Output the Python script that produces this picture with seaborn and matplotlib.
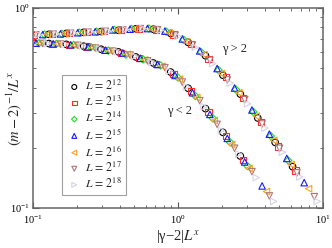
import matplotlib
matplotlib.use("Agg")
import matplotlib.pyplot as plt
import seaborn as sns
import numpy as np
import pandas as pd
from matplotlib.ticker import NullFormatter

# system sizes L = 2^e
exponents = [12, 13, 14, 15, 16, 17, 18]

# gamma < 2 branch (lower curve): scaled variable |gamma-2| L^x and (m-2)^-1 / L^x
lo_u_12 = [2.692, 2.042, 1.549, 1.175, 0.891, 0.676, 0.513, 0.389, 0.295, 0.224, 0.170, 0.129]
lo_y_12 = [0.182, 0.239, 0.314, 0.397, 0.478, 0.531, 0.569, 0.603, 0.622, 0.644, 0.658, 0.664]
lo_u_13 = [2.818, 2.138, 1.622, 1.230, 0.933, 0.708, 0.537, 0.407, 0.309, 0.234, 0.178, 0.135, 0.102]
lo_y_13 = [0.174, 0.229, 0.301, 0.384, 0.466, 0.525, 0.563, 0.598, 0.617, 0.641, 0.655, 0.663, 0.668]
lo_u_14 = [3.020, 2.291, 1.738, 1.318, 1.000, 0.759, 0.575, 0.437, 0.331, 0.251, 0.191, 0.145, 0.110]
lo_y_14 = [0.162, 0.213, 0.281, 0.363, 0.449, 0.516, 0.553, 0.584, 0.612, 0.637, 0.653, 0.661, 0.666]
lo_u_15 = [3.802, 2.884, 2.188, 1.660, 1.259, 0.955, 0.724, 0.550, 0.417, 0.316, 0.240, 0.182, 0.138, 0.105]
lo_y_15 = [0.129, 0.170, 0.223, 0.294, 0.377, 0.460, 0.522, 0.560, 0.596, 0.615, 0.640, 0.655, 0.662, 0.667]
lo_u_16 = [4.074, 3.090, 2.344, 1.778, 1.349, 1.023, 0.776, 0.589, 0.447, 0.339, 0.257, 0.195, 0.148, 0.112]
lo_y_16 = [0.121, 0.158, 0.208, 0.274, 0.357, 0.441, 0.512, 0.550, 0.587, 0.611, 0.634, 0.651, 0.661, 0.666]
lo_u_17 = [4.266, 3.236, 2.455, 1.862, 1.413, 1.072, 0.813, 0.617, 0.468, 0.355, 0.269, 0.204, 0.155, 0.117]
lo_y_17 = [0.115, 0.152, 0.199, 0.262, 0.344, 0.426, 0.503, 0.544, 0.581, 0.608, 0.630, 0.650, 0.660, 0.665]
lo_u_18 = [4.571, 3.467, 2.630, 1.995, 1.514, 1.148, 0.871, 0.661, 0.501, 0.380, 0.288, 0.219, 0.166, 0.126]
lo_y_18 = [0.108, 0.142, 0.186, 0.244, 0.321, 0.404, 0.484, 0.534, 0.573, 0.604, 0.624, 0.646, 0.658, 0.664]

# gamma > 2 branch (upper curve)
hi_u_12 = [6.166, 4.677, 3.548, 2.692, 2.042, 1.549, 1.175, 0.891, 0.676, 0.513, 0.389, 0.295, 0.224, 0.170, 0.129]
hi_y_12 = [0.161, 0.213, 0.282, 0.371, 0.461, 0.577, 0.673, 0.746, 0.783, 0.787, 0.773, 0.762, 0.755, 0.746, 0.738]
hi_u_13 = [6.457, 4.898, 3.715, 2.818, 2.138, 1.622, 1.230, 0.933, 0.708, 0.537, 0.407, 0.309, 0.234, 0.178, 0.135, 0.102]
hi_y_13 = [0.154, 0.203, 0.269, 0.356, 0.453, 0.558, 0.660, 0.736, 0.780, 0.788, 0.776, 0.764, 0.757, 0.747, 0.740, 0.733]
hi_u_14 = [5.754, 4.365, 3.311, 2.512, 1.905, 1.445, 1.096, 0.832, 0.631, 0.479, 0.363, 0.275, 0.209, 0.158, 0.120]
hi_y_14 = [0.173, 0.229, 0.302, 0.391, 0.489, 0.601, 0.693, 0.761, 0.789, 0.785, 0.778, 0.761, 0.753, 0.743, 0.737]
hi_u_15 = [7.413, 5.623, 4.266, 3.236, 2.455, 1.862, 1.413, 1.072, 0.813, 0.617, 0.468, 0.355, 0.269, 0.204, 0.155, 0.117]
hi_y_15 = [0.134, 0.177, 0.234, 0.309, 0.398, 0.498, 0.610, 0.700, 0.766, 0.789, 0.783, 0.777, 0.760, 0.752, 0.742, 0.736]
hi_u_16 = [7.943, 6.026, 4.571, 3.467, 2.630, 1.995, 1.514, 1.148, 0.871, 0.661, 0.501, 0.380, 0.288, 0.219, 0.166, 0.126]
hi_y_16 = [0.125, 0.165, 0.218, 0.288, 0.377, 0.470, 0.585, 0.679, 0.751, 0.785, 0.787, 0.776, 0.762, 0.754, 0.745, 0.738]
hi_u_17 = [8.710, 6.607, 5.012, 3.802, 2.884, 2.188, 1.660, 1.259, 0.955, 0.724, 0.550, 0.417, 0.316, 0.240, 0.182, 0.138, 0.105]
hi_y_17 = [0.114, 0.150, 0.199, 0.263, 0.348, 0.437, 0.547, 0.653, 0.731, 0.778, 0.788, 0.777, 0.764, 0.757, 0.748, 0.740, 0.734]
hi_u_18 = [9.120, 6.918, 5.248, 3.981, 3.020, 2.291, 1.738, 1.318, 1.000, 0.759, 0.575, 0.437, 0.331, 0.251, 0.191, 0.145, 0.110]
hi_y_18 = [0.108, 0.143, 0.190, 0.251, 0.332, 0.421, 0.527, 0.635, 0.721, 0.774, 0.788, 0.780, 0.765, 0.759, 0.750, 0.741, 0.735]

lo_u = [lo_u_12, lo_u_13, lo_u_14, lo_u_15, lo_u_16, lo_u_17, lo_u_18]
lo_y = [lo_y_12, lo_y_13, lo_y_14, lo_y_15, lo_y_16, lo_y_17, lo_y_18]
hi_u = [hi_u_12, hi_u_13, hi_u_14, hi_u_15, hi_u_16, hi_u_17, hi_u_18]
hi_y = [hi_y_12, hi_y_13, hi_y_14, hi_y_15, hi_y_16, hi_y_17, hi_y_18]

colors = ["black", "#ff2a2a", "#22dd22", "#1a1aff", "#ffa020", "#b07878", "#d4d4e4"]
markers = ["o", "s", "D", "^", "<", "v", ">"]
sizes = [22, 20, 14, 22, 22, 22, 22]

rows = []
for i, e in enumerate(exponents):
    for u, y in zip(lo_u[i], lo_y[i]):
        rows.append((e, "lo", u, y))
    for u, y in zip(hi_u[i], hi_y[i]):
        rows.append((e, "hi", u, y))
df = pd.DataFrame(rows, columns=["L", "branch", "u", "y"])

sns.set_style("ticks")
plt.rcParams["font.family"] = ["Liberation Serif", "DejaVu Serif"]
plt.rcParams["mathtext.fontset"] = "stix"

fig, ax = plt.subplots(figsize=(3.32, 2.48), dpi=100)
fig.subplots_adjust(left=0.099, right=0.973, top=0.968, bottom=0.161)

for i, e in enumerate(exponents):
    sub = df[df["L"] == e]
    sns.scatterplot(data=sub, x="u", y="y", marker=markers[i], s=sizes[i],
                    facecolors="none", edgecolor=colors[i], linewidth=0.8,
                    label=rf"$L\,=\,2^{{{e}}}$", ax=ax, legend=False)

ax.set_xscale("log")
ax.set_yscale("log")
ax.set_xlim(0.1, 10)
ax.set_ylim(0.1, 1)
ax.xaxis.set_minor_formatter(NullFormatter())
ax.yaxis.set_minor_formatter(NullFormatter())
ax.tick_params(which="both", direction="in", top=True, right=True,
               colors="#555555", labelcolor="black", labelsize=7.5, pad=2)
ax.tick_params(axis="x", which="major", pad=4)
ax.tick_params(which="major", length=4, width=0.8)
ax.tick_params(which="minor", length=2.5, width=0.6)
for sp in ax.spines.values():
    sp.set_color("#666666")
    sp.set_linewidth(1.1)

ax.set_xlabel(r"|γ−2|$L^{x}$", fontsize=10.5)
ax.set_ylabel(r"$(m-2)^{-1}/L^{x}$", fontsize=10.5)
ax.yaxis.set_label_coords(-0.03, 0.5)
ax.xaxis.set_label_coords(0.5, -0.1)

ax.text(2.01, 0.624, "γ > 2", fontsize=9, va="center")
ax.text(0.84, 0.305, "γ < 2", fontsize=9, va="center")

leg = ax.legend(loc="lower left", bbox_to_anchor=(0.10, 0.065), frameon=True,
                fancybox=False, edgecolor="#888888", fontsize=8.5,
                handletextpad=0.2, labelspacing=0.15, borderpad=0.35,
                scatterpoints=1, handlelength=1.4, borderaxespad=0,
                markerscale=0.75)
leg.get_frame().set_linewidth(0.8)

fig.savefig("out.png", dpi=100)
